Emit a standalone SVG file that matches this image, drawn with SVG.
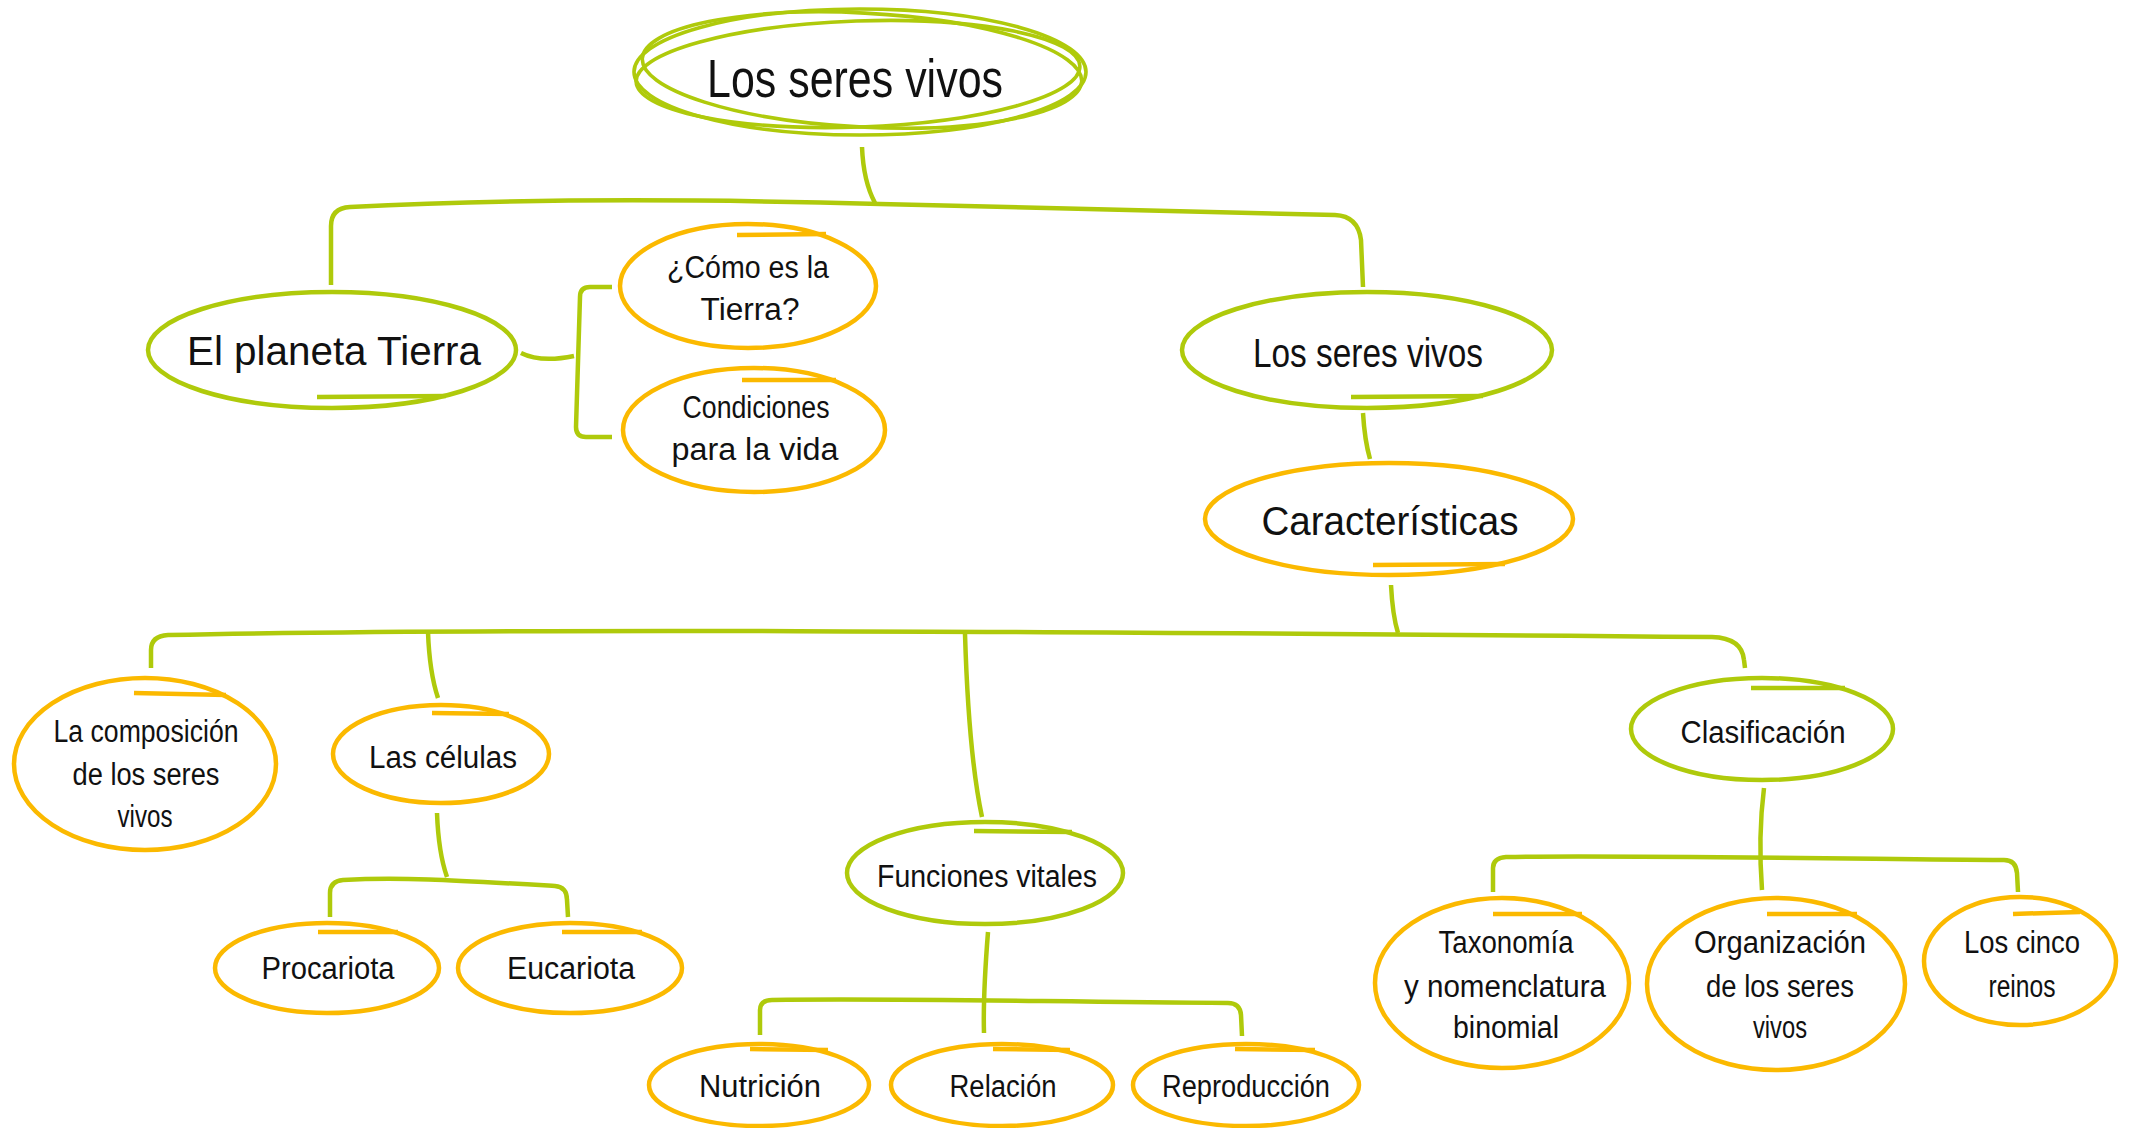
<svg xmlns="http://www.w3.org/2000/svg" width="2130" height="1128" viewBox="0 0 2130 1128">
<style>
.g{fill:none;stroke:#afca0b;stroke-width:4.5;stroke-linecap:butt}
.o{fill:none;stroke:#fbb900;stroke-width:4.5;stroke-linecap:butt}
.c{fill:none;stroke:#afca0b;stroke-width:4.5;stroke-linecap:butt;stroke-linejoin:round}
.r{fill:none;stroke:#afca0b;stroke-width:3.6}
.t{font-family:"Liberation Sans",Arial,sans-serif;fill:#111;text-anchor:middle;font-size:31px}
.m{font-size:40px}
.L{font-size:54px}
</style>
<rect width="2130" height="1128" fill="#fff"/>
<g id="connectors">
<path class="c" d="M 862 147 C 863 172 867 188 875 203"/>
<path class="c" d="M 331 285 L 331 226 Q 331 208 350 207 C 520 198 700 199 880 204 C 1060 209 1200 213 1335 215 Q 1358 216 1361 240 L 1363 287"/>
<path class="c" d="M 521 353 C 535 360 555 360 574 356"/>
<path class="c" d="M 612 287 L 590 287 Q 580 287 580 297 L 576 427 Q 576 437 586 437 L 612 437"/>
<path class="c" d="M 1363 413 C 1364 430 1366 445 1370 459"/>
<path class="c" d="M 1391 585 C 1392 605 1394 620 1398 633"/>
<path class="c" d="M 151 668 L 151 650 Q 151 636 168 635 C 500 628 1000 631 1712 637 Q 1742 638 1744 660 L 1745 668"/>
<path class="c" d="M 428 632 C 429 660 432 680 438 698"/>
<path class="c" d="M 965 634 C 967 700 972 770 982 817"/>
<path class="c" d="M 437 813 C 438 840 441 860 447 877"/>
<path class="c" d="M 330 917 L 330 893 Q 330 881 343 880 C 400 877 450 880 555 886 Q 567 887 567 900 L 568 917"/>
<path class="c" d="M 988 932 C 985 970 983 1000 984 1033"/>
<path class="c" d="M 760 1035 L 760 1010 Q 760 1000 772 1000 C 900 998 1050 1002 1228 1003 Q 1240 1003 1241 1015 L 1242 1036"/>
<path class="c" d="M 1764 788 C 1760 820 1759 850 1762 890"/>
<path class="c" d="M 1493 892 L 1493 868 Q 1493 858 1506 857 C 1600 855 1800 858 2004 860 Q 2016 860 2017 873 L 2018 892"/>
</g>
<g id="root">
<ellipse class="r" cx="860" cy="72" rx="226" ry="63"/>
<ellipse class="r" cx="858" cy="74" rx="222" ry="53" transform="rotate(-2 858 74)"/>
<ellipse class="r" cx="862" cy="70" rx="220" ry="57" transform="rotate(3 862 70)"/>
<text class="t L" x="855" y="97" textLength="296" lengthAdjust="spacingAndGlyphs">Los seres vivos</text>
</g>
<g id="planeta">
<ellipse class="g" cx="332" cy="350" rx="184" ry="58"/>
<path class="g" d="M 317 397 L 446 396"/>
<text class="t m" x="334" y="365" textLength="294" lengthAdjust="spacingAndGlyphs">El planeta Tierra</text>
</g>
<g id="como">
<ellipse class="o" cx="748" cy="286" rx="128" ry="62"/>
<path class="o" d="M 737 235 L 826 234"/>
<text class="t" x="748" y="278" textLength="162" lengthAdjust="spacingAndGlyphs">¿Cómo es la</text>
<text class="t" x="750" y="320" textLength="99" lengthAdjust="spacingAndGlyphs">Tierra?</text>
</g>
<g id="condiciones">
<ellipse class="o" cx="754" cy="430" rx="131" ry="62"/>
<path class="o" d="M 742 380 L 836 380"/>
<text class="t" x="756" y="418" textLength="147" lengthAdjust="spacingAndGlyphs">Condiciones</text>
<text class="t" x="755" y="460" textLength="167" lengthAdjust="spacingAndGlyphs">para la vida</text>
</g>
<g id="seres">
<ellipse class="g" cx="1367" cy="350" rx="185" ry="58"/>
<path class="g" d="M 1351 397 L 1483 396"/>
<text class="t m" x="1368" y="367" textLength="230" lengthAdjust="spacingAndGlyphs">Los seres vivos</text>
</g>
<g id="caracteristicas">
<ellipse class="o" cx="1389" cy="519" rx="184" ry="56"/>
<path class="o" d="M 1373 565 L 1505 564"/>
<text class="t m" x="1390" y="535" textLength="257" lengthAdjust="spacingAndGlyphs">Características</text>
</g>
<g id="composicion">
<ellipse class="o" cx="145" cy="764" rx="131" ry="86"/>
<path class="o" d="M 134 693 L 226 695"/>
<text class="t" x="146" y="742" textLength="185" lengthAdjust="spacingAndGlyphs">La composición</text>
<text class="t" x="146" y="785" textLength="147" lengthAdjust="spacingAndGlyphs">de los seres</text>
<text class="t" x="145" y="827" textLength="55" lengthAdjust="spacingAndGlyphs">vivos</text>
</g>
<g id="celulas">
<ellipse class="o" cx="441" cy="754" rx="108" ry="49"/>
<path class="o" d="M 432 713 L 509 714"/>
<text class="t" x="443" y="768" textLength="148" lengthAdjust="spacingAndGlyphs">Las células</text>
</g>
<g id="procariota">
<ellipse class="o" cx="327" cy="968" rx="112" ry="45"/>
<path class="o" d="M 318 932 L 398 932"/>
<text class="t" x="328" y="979" textLength="133" lengthAdjust="spacingAndGlyphs">Procariota</text>
</g>
<g id="eucariota">
<ellipse class="o" cx="570" cy="968" rx="112" ry="45"/>
<path class="o" d="M 562 932 L 642 932"/>
<text class="t" x="571" y="979" textLength="128" lengthAdjust="spacingAndGlyphs">Eucariota</text>
</g>
<g id="funciones">
<ellipse class="g" cx="985" cy="873" rx="138" ry="51"/>
<path class="g" d="M 974 831 L 1072 832"/>
<text class="t" x="987" y="887" textLength="220" lengthAdjust="spacingAndGlyphs">Funciones vitales</text>
</g>
<g id="nutricion">
<ellipse class="o" cx="759" cy="1085" rx="110" ry="41"/>
<path class="o" d="M 750 1049 L 828 1050"/>
<text class="t" x="760" y="1097" textLength="122" lengthAdjust="spacingAndGlyphs">Nutrición</text>
</g>
<g id="relacion">
<ellipse class="o" cx="1002" cy="1085" rx="111" ry="41"/>
<path class="o" d="M 993 1049 L 1070 1050"/>
<text class="t" x="1003" y="1097" textLength="107" lengthAdjust="spacingAndGlyphs">Relación</text>
</g>
<g id="reproduccion">
<ellipse class="o" cx="1246" cy="1085" rx="113" ry="41"/>
<path class="o" d="M 1235 1049 L 1315 1050"/>
<text class="t" x="1246" y="1097" textLength="168" lengthAdjust="spacingAndGlyphs">Reproducción</text>
</g>
<g id="clasificacion">
<ellipse class="g" cx="1762" cy="729" rx="131" ry="51"/>
<path class="g" d="M 1751 688 L 1845 688"/>
<text class="t" x="1763" y="743" textLength="165" lengthAdjust="spacingAndGlyphs">Clasificación</text>
</g>
<g id="taxonomia">
<ellipse class="o" cx="1502" cy="983" rx="127" ry="85"/>
<path class="o" d="M 1493 914 L 1582 914"/>
<text class="t" x="1506" y="953" textLength="135" lengthAdjust="spacingAndGlyphs">Taxonomía</text>
<text class="t" x="1505" y="997" textLength="202" lengthAdjust="spacingAndGlyphs">y nomenclatura</text>
<text class="t" x="1506" y="1038" textLength="106" lengthAdjust="spacingAndGlyphs">binomial</text>
</g>
<g id="organizacion">
<ellipse class="o" cx="1776" cy="984" rx="129" ry="86"/>
<path class="o" d="M 1767 914 L 1857 914"/>
<text class="t" x="1780" y="953" textLength="172" lengthAdjust="spacingAndGlyphs">Organización</text>
<text class="t" x="1780" y="997" textLength="148" lengthAdjust="spacingAndGlyphs">de los seres</text>
<text class="t" x="1780" y="1038" textLength="54" lengthAdjust="spacingAndGlyphs">vivos</text>
</g>
<g id="cinco">
<ellipse class="o" cx="2020" cy="961" rx="96" ry="64"/>
<path class="o" d="M 2013 914 L 2080 912"/>
<text class="t" x="2022" y="953" textLength="116" lengthAdjust="spacingAndGlyphs">Los cinco</text>
<text class="t" x="2022" y="997" textLength="67" lengthAdjust="spacingAndGlyphs">reinos</text>
</g>
</svg>
